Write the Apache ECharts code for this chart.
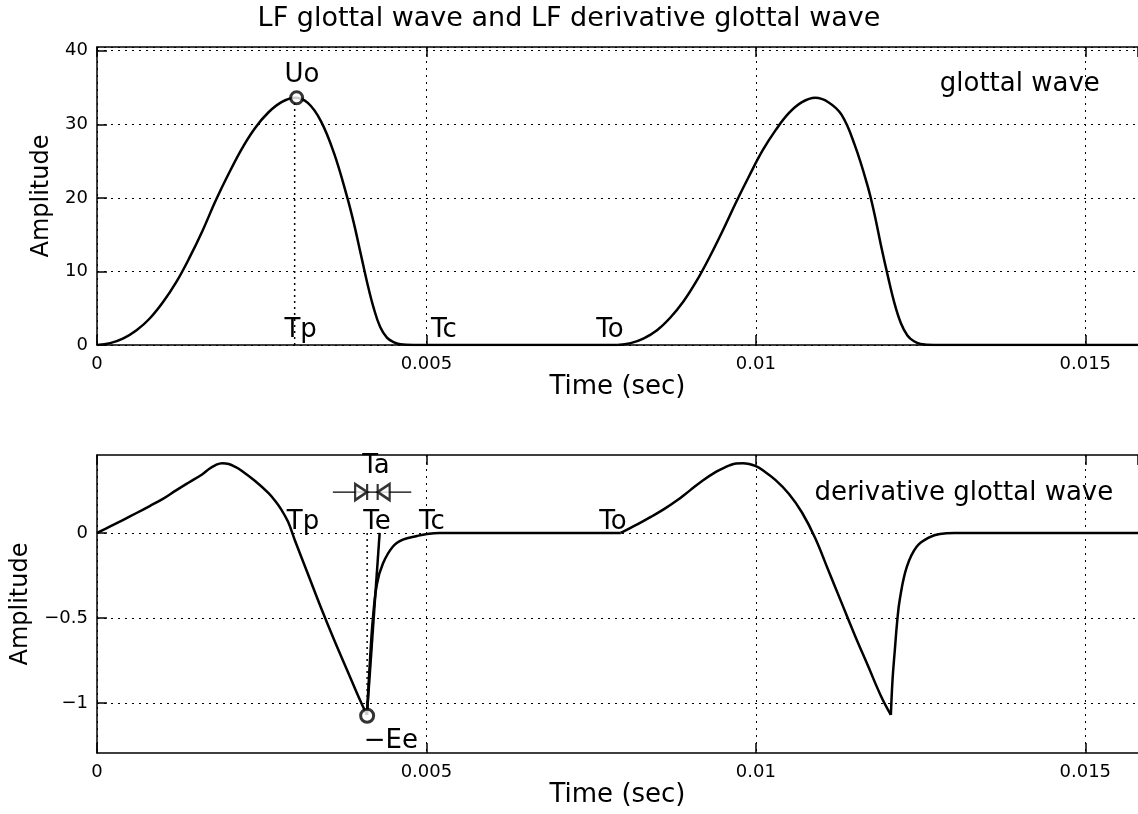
<!DOCTYPE html>
<html><head><meta charset="utf-8">
<script src="https://cdn.jsdelivr.net/npm/echarts@6/dist/echarts.min.js"></script>
<style>html,body{margin:0;padding:0;background:#fff}#c{width:1138px;height:814px}</style>
</head><body><div id="c"></div>
<script>
// ---- tick values ----
const xTicks = [0, 0.005, 0.01, 0.015];
const yTicksTop = [0, 10, 20, 30, 40];
const yTicksBottom = [-1, -0.5, 0];

// ---- glottal wave [time s, amplitude] ----
const glottal1 = [[0,0],[0.0002,0.25],[0.0004,0.9],[0.0006,2.0],[0.0008,3.6],[0.001,5.8],[0.0012,8.5],[0.0014,11.8],[0.0016,15.5],[0.0018,19.6],[0.002,23.3],[0.0022,26.7],[0.0024,29.5],[0.0026,31.6],[0.0028,33.0],[0.003,33.6],[0.0032,32.9],[0.0034,30.4],[0.0036,26.0],[0.0038,20.0],[0.0039,16.5],[0.004,12.5],[0.0041,8.5],[0.0042,5.0],[0.0043,2.4],[0.0044,1.0],[0.0045,0.4],[0.0046,0.1],[0.0048,0],[0.005,0],[0.0077,0],[0.0079,0]];
const glottal2 = [[0.0079,0],[0.0081,0.25],[0.0083,0.9],[0.0085,2.0],[0.0087,3.7],[0.0089,5.9],[0.0091,8.7],[0.0093,12.0],[0.0095,15.6],[0.0097,19.4],[0.0099,23.0],[0.0101,26.4],[0.0103,29.2],[0.0105,31.5],[0.0107,33.0],[0.0109,33.6],[0.0111,33.0],[0.0113,31.3],[0.0115,27.2],[0.0117,21.5],[0.0118,17.8],[0.0119,13.5],[0.012,9.5],[0.0121,5.8],[0.0122,3.0],[0.0123,1.3],[0.0124,0.5],[0.0125,0.15],[0.0127,0],[0.0129,0],[0.0158,0]];

// ---- derivative glottal wave ----
const derivOpen1 = [[0,0],[0.0002,0.038],[0.0004,0.077],[0.0006,0.117],[0.0008,0.158],[0.001,0.2],[0.0012,0.25],[0.0014,0.298],[0.0016,0.345],[0.0017,0.376],[0.0018,0.399],[0.0019,0.41],[0.002,0.405],[0.0021,0.388],[0.0022,0.364],[0.0024,0.305],[0.0026,0.235],[0.0027,0.19],[0.0028,0.135],[0.0029,0.065],[0.003,-0.04],[0.0032,-0.24],[0.0034,-0.44],[0.0036,-0.63],[0.0038,-0.81],[0.004,-0.99],[0.004097,-1.07]];
const derivReturn1 = [[0.004097,-1.07],[0.004143,-0.75],[0.004188,-0.5],[0.004249,-0.3],[0.00434,-0.18],[0.004492,-0.08],[0.004643,-0.04],[0.004856,-0.018],[0.005008,-0.006],[0.005205,0],[0.0054,0],[0.0077,0],[0.00795,0]];
const derivOpen2 = [[0.00795,0],[0.0082,0.05],[0.0084,0.093],[0.0086,0.138],[0.0088,0.19],[0.009,0.25],[0.0092,0.31],[0.0094,0.36],[0.0095,0.38],[0.0096,0.397],[0.0097,0.408],[0.0098,0.41],[0.0099,0.405],[0.01,0.392],[0.0101,0.37],[0.0103,0.31],[0.0105,0.23],[0.0107,0.12],[0.0109,-0.03],[0.0111,-0.22],[0.0113,-0.41],[0.0115,-0.6],[0.0117,-0.78],[0.0119,-0.96],[0.012049,-1.07]];
const derivReturn2 = [[0.012049,-1.07],[0.012075,-0.86],[0.012109,-0.69],[0.012145,-0.52],[0.012185,-0.39],[0.012291,-0.2],[0.012443,-0.08],[0.01264,-0.025],[0.012792,-0.006],[0.01302,0],[0.0132,0],[0.0158,0]];

// ---- annotations ----
const tpDotted = [[0.003,0],[0.003,33.6]];
const uoPoint = [[0.00303,33.6]];
const teDotted = [[0.0041,-1.07],[0.0041,0]];
const eePoint = [[0.0041,-1.075]];
const taTangent = [[0.004097,-1.07],[0.00429,0]];
const taBar = [[0.00358,0.24],[0.00477,0.24]];
const taArrowRight = [[0.0041,0.24]];
const taArrowLeft = [[0.00426,0.24]];
const topLabels = [[0.00311,36.7,'Uo'],[0.00309,2.0,'Tp'],[0.005266,2.0,'Tc'],[0.007785,2.0,'To'],[0.014006,35.5,'glottal wave']];
const bottomLabels = [[0.003126,0.065,'Tp'],[0.004249,0.065,'Te'],[0.005083,0.065,'Tc'],[0.00783,0.065,'To'],[0.004234,0.39,'Ta'],[0.004461,-1.225,'\u2212Ee'],[0.013156,0.235,'derivative glottal wave']];

const FONT = 'DejaVu Sans';
const BLACK = '#000';
const gridLine = {color: BLACK, type: [2, 5], width: 1};
const fmt = v => String(+(+v).toFixed(4)).replace('-', '\u2212');

function xAx(gi, pos, labels) {
  return {
    type: 'value', gridIndex: gi, position: pos, min: 0, max: 0.0158, interval: 0.005,
    axisLine: {show: true, onZero: false, lineStyle: {color: BLACK, width: 1.5}},
    axisTick: {show: true, inside: true, length: 10, lineStyle: {color: BLACK, width: 1.5}},
    axisLabel: {show: labels, showMaxLabel: false, margin: 10, fontFamily: FONT, fontSize: 18, color: BLACK, formatter: fmt},
    splitLine: {show: labels, lineStyle: gridLine},
    name: labels ? 'Time (sec)' : '', nameLocation: 'middle', nameGap: 26,
    nameTextStyle: {fontFamily: FONT, fontSize: 26, color: BLACK}
  };
}
function line(data, xi, yi, extra) {
  return Object.assign({type: 'line', xAxisIndex: xi, yAxisIndex: yi, data: data, symbol: 'none',
    smooth: 0.4, smoothConstraint: false, lineStyle: {color: BLACK, width: 2.5, join: 'round'}, silent: true, z: 3}, extra || {});
}
function labelSeries(data, xi, yi) {
  return {type: 'scatter', xAxisIndex: xi, yAxisIndex: yi, data: data, symbolSize: 1,
    itemStyle: {color: 'rgba(0,0,0,0)'}, silent: true, z: 10,
    label: {show: true, position: 'inside', formatter: p => p.data[2], fontFamily: FONT, fontSize: 26,
      color: BLACK, textBorderWidth: 0, textBorderColor: 'transparent', opacity: 1}};
}
const arrowR = 'path://M0,0L12,8L0,16Z M12,0L12,16';
const arrowL = 'path://M12,0L0,8L12,16Z M0,0L0,16';

const option = {
  animation: false,
  backgroundColor: '#fff',
  title: {text: 'LF glottal wave and LF derivative glottal wave', left: 'center', top: 0,
    textStyle: {fontFamily: FONT, fontSize: 27, fontWeight: 'normal', color: BLACK}},
  grid: [
    {left: 97, top: 47, width: 1041, height: 298},
    {left: 97, top: 455, width: 1041, height: 298}
  ],
  xAxis: [xAx(0, 'bottom', true), xAx(0, 'top', false), xAx(1, 'bottom', true), xAx(1, 'top', false)],
  yAxis: [
    {type: 'value', gridIndex: 0, min: 0, max: 40.5, interval: 10,
      axisLine: {show: true, onZero: false, lineStyle: {color: BLACK, width: 1.5}},
      axisTick: {show: true, inside: true, length: 10, lineStyle: {color: BLACK, width: 1.5}},
      axisLabel: {showMaxLabel: false, margin: 9, fontFamily: FONT, fontSize: 18, color: BLACK, formatter: fmt},
      splitLine: {show: true, lineStyle: gridLine},
      name: 'Amplitude', nameLocation: 'middle', nameRotate: 90, nameGap: 42,
      nameTextStyle: {fontFamily: FONT, fontSize: 24, color: BLACK}},
    {type: 'value', gridIndex: 1, min: -1.294, max: 0.458,
      axisLine: {show: true, onZero: false, lineStyle: {color: BLACK, width: 1.5}},
      axisTick: {show: true, inside: true, length: 10, customValues: yTicksBottom, lineStyle: {color: BLACK, width: 1.5}},
      axisLabel: {margin: 9, customValues: yTicksBottom, fontFamily: FONT, fontSize: 18, color: BLACK, formatter: fmt},
      splitLine: {show: false},
      name: 'Amplitude', nameLocation: 'middle', nameRotate: 90, nameGap: 64,
      nameTextStyle: {fontFamily: FONT, fontSize: 24, color: BLACK}}
  ],
  series: [
    line(glottal1, 0, 0),
    line(glottal2, 0, 0),
    line(tpDotted, 0, 0, {smooth: false, lineStyle: {color: BLACK, width: 1.5, type: [2, 4]}}),
    {type: 'scatter', xAxisIndex: 0, yAxisIndex: 0, data: uoPoint, symbol: 'circle', symbolSize: 12, silent: true, z: 5,
      itemStyle: {color: '#fff', borderColor: BLACK, borderWidth: 3}},
    labelSeries(topLabels, 0, 0),

    line(derivOpen1, 2, 1, {markLine: {silent: true, symbol: 'none', label: {show: false},
      lineStyle: gridLine, data: yTicksBottom.map(v => ({yAxis: v}))}}),
    line(derivReturn1, 2, 1),
    line(derivOpen2, 2, 1),
    line(derivReturn2, 2, 1),
    line(taTangent, 2, 1, {smooth: false}),
    line(teDotted, 2, 1, {smooth: false, lineStyle: {color: BLACK, width: 1.5, type: [2, 4]}}),
    line(taBar, 2, 1, {smooth: false, lineStyle: {color: BLACK, width: 1.2}}),
    {type: 'scatter', xAxisIndex: 2, yAxisIndex: 1, data: taArrowRight, symbol: arrowR, symbolSize: [12, 16], symbolOffset: [-6, 0], silent: true, z: 6,
      itemStyle: {color: '#fff', borderColor: BLACK, borderWidth: 2.5}},
    {type: 'scatter', xAxisIndex: 2, yAxisIndex: 1, data: taArrowLeft, symbol: arrowL, symbolSize: [12, 16], symbolOffset: [6, 0], silent: true, z: 6,
      itemStyle: {color: '#fff', borderColor: BLACK, borderWidth: 2.5}},
    {type: 'scatter', xAxisIndex: 2, yAxisIndex: 1, data: eePoint, symbol: 'circle', symbolSize: 13, silent: true, z: 5,
      itemStyle: {color: '#fff', borderColor: BLACK, borderWidth: 3}},
    labelSeries(bottomLabels, 2, 1)
  ]
};
const chart = echarts.init(document.getElementById('c'), null, {renderer: 'canvas'});
chart.setOption(option);
</script></body></html>
